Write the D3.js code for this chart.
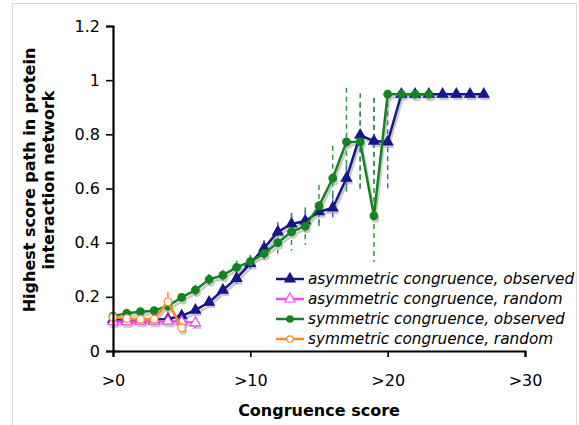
<!DOCTYPE html>
<html>
<head>
<meta charset="utf-8">
<script src="https://cdn.jsdelivr.net/npm/d3@7"></script>
<style>
  body { margin: 0; background: #fff; }
  text { font-family: "DejaVu Sans", Verdana, sans-serif; }
</style>
</head>
<body>
<div id="chart"></div>
<script>
// values
var xTicks = [0, 10, 20, 30];
var xTickLabels = [">0", ">10", ">20", ">30"];
var yTicks = [0, 0.2, 0.4, 0.6, 0.8, 1, 1.2];
var yTickLabels = ["0", "0.2", "0.4", "0.6", "0.8", "1", "1.2"];

// asymmetric congruence, observed (x = 0..27)
var asymObs = [0.117, 0.115, 0.115, 0.115, 0.118, 0.13, 0.151, 0.18, 0.225, 0.268, 0.323, 0.38, 0.44, 0.469,
               0.48, 0.514, 0.528, 0.638, 0.797, 0.775, 0.772, 0.948, 0.948, 0.948, 0.948, 0.948, 0.948, 0.948];
var asymObsErrUp = [0.01, 0.01, 0.01, 0.01, 0.01, 0.01, 0.01, 0.012, 0.015, 0.02, 0.02, 0.03, 0.035, 0.04,
                    0.04, 0.04, 0.05, 0.05, 0.12, 0.16, 0.18, 0, 0, 0, 0, 0, 0, 0];
var asymObsErrDown = [0.01, 0.01, 0.01, 0.01, 0.01, 0.01, 0.01, 0.012, 0.015, 0.02, 0.02, 0.03, 0.035, 0.04,
                      0.04, 0.04, 0.05, 0.05, 0.2, 0.16, 0.18, 0, 0, 0, 0, 0, 0, 0];

// asymmetric congruence, random (x = 0..6)
var asymRnd = [0.108, 0.108, 0.11, 0.11, 0.11, 0.108, 0.104];
var asymRndErr = [0.005, 0.005, 0.005, 0.005, 0.008, 0.01, 0.02];

// symmetric congruence, observed (x = 0..23)
var symObs = [0.129, 0.139, 0.145, 0.149, 0.166, 0.198, 0.225, 0.264, 0.28, 0.309, 0.33, 0.36, 0.4, 0.44,
              0.461, 0.536, 0.638, 0.772, 0.772, 0.499, 0.948, 0.948, 0.948, 0.948];
var symObsErrUp = [0.005, 0.005, 0.008, 0.01, 0.012, 0.015, 0.02, 0.02, 0.02, 0.025, 0.025, 0.03, 0.04, 0.07,
                   0.07, 0.077, 0.12, 0.2, 0.18, 0.435, 0, 0, 0, 0];
var symObsErrDown = [0.005, 0.005, 0.008, 0.01, 0.012, 0.015, 0.02, 0.02, 0.02, 0.025, 0.025, 0.03, 0.04, 0.07,
                     0.07, 0.077, 0.12, 0.2, 0.18, 0.17, 0, 0, 0, 0];

// symmetric congruence, random (x = 0..5)
var symRnd = [0.125, 0.12, 0.117, 0.117, 0.182, 0.086];
var symRndErr = [0.005, 0.005, 0.005, 0.005, 0.035, 0.01];

var legendLabels = ["asymmetric congruence, observed", "asymmetric congruence, random",
                    "symmetric congruence, observed", "symmetric congruence, random"];

var W = 579, H = 425;
var svg = d3.select("#chart").append("svg").attr("width", W).attr("height", H);

// light frame round the chart
svg.append("rect")
    .attr("x", 12.5).attr("y", 3.5).attr("width", 564).attr("height", 440)
    .attr("fill", "none").attr("stroke", "#d9d9d9");

var x = d3.scaleLinear().domain([0, 30]).range([113, 525]);
var y = d3.scaleLinear().domain([0, 1.2]).range([351, 26]);

function pts(vals, up, down) {
    return vals.map(function (v, i) {
        return {x: i, y: v, up: up[i], down: down ? down[i] : up[i]};
    });
}

var series = [
    {data: pts(asymObs, asymObsErrUp, asymObsErrDown), color: "#16168c", err: "#4a5fe0", marker: "tri", fill: "#16168c"},
    {data: pts(symObs, symObsErrUp, symObsErrDown), color: "#14841e", err: "#2f9a3a", marker: "circle", fill: "#14841e"},
    {data: pts(asymRnd, asymRndErr), color: "#f04cf0", err: "#f04cf0", marker: "tri", fill: "#fff"},
    {data: pts(symRnd, symRndErr), color: "#ff8a1e", err: "#ff8a1e", marker: "circle", fill: "#fff"}
];

var line = d3.line()
    .x(function (d) { return x(d.x); })
    .y(function (d) { return y(d.y); });

var tri = d3.symbol().type(d3.symbolTriangle).size(46);

// error bars first, behind the lines
series.forEach(function (s) {
    svg.append("g").selectAll("line")
        .data(s.data.filter(function (d) { return d.up > 0 || d.down > 0; }))
        .enter().append("line")
        .attr("x1", function (d) { return x(d.x); })
        .attr("x2", function (d) { return x(d.x); })
        .attr("y1", function (d) { return y(d.y + d.up); })
        .attr("y2", function (d) { return y(d.y - d.down); })
        .attr("stroke", s.err)
        .attr("stroke-width", 1.5)
        .attr("stroke-dasharray", "5,4");
});

// grey shadows
var shadow = svg.append("g").attr("transform", "translate(1.5,3)").attr("opacity", 0.45);
series.forEach(function (s) {
    shadow.append("path").datum(s.data).attr("d", line)
        .attr("fill", "none").attr("stroke", "#888").attr("stroke-width", 2.5);
    if (s.marker === "tri") {
        shadow.selectAll(null).data(s.data).enter().append("path")
            .attr("d", tri)
            .attr("transform", function (d) { return "translate(" + x(d.x) + "," + y(d.y) + ")"; })
            .attr("fill", "#888");
    } else {
        shadow.selectAll(null).data(s.data).enter().append("circle")
            .attr("cx", function (d) { return x(d.x); })
            .attr("cy", function (d) { return y(d.y); })
            .attr("r", 4).attr("fill", "#888");
    }
});

series.forEach(function (s) {
    svg.append("path").datum(s.data).attr("d", line)
        .attr("fill", "none").attr("stroke", s.color).attr("stroke-width", 2.5)
        .attr("stroke-linejoin", "round");
    if (s.marker === "tri") {
        svg.append("g").selectAll("path").data(s.data).enter().append("path")
            .attr("d", tri)
            .attr("transform", function (d) { return "translate(" + x(d.x) + "," + y(d.y) + ")"; })
            .attr("fill", s.fill).attr("stroke", s.color).attr("stroke-width", 1.2);
    } else {
        svg.append("g").selectAll("circle").data(s.data).enter().append("circle")
            .attr("cx", function (d) { return x(d.x); })
            .attr("cy", function (d) { return y(d.y); })
            .attr("r", 3.8)
            .attr("fill", s.fill).attr("stroke", s.color).attr("stroke-width", 1.2);
    }
});

// axes
var yAxis = svg.append("g")
    .attr("transform", "translate(113,0)")
    .call(d3.axisLeft(y).tickValues(yTicks).tickSizeOuter(0).tickSize(7).tickPadding(6)
        .tickFormat(function (d, i) { return yTickLabels[i]; }));
var xAxis = svg.append("g")
    .attr("transform", "translate(0,351)")
    .call(d3.axisBottom(x).tickValues(xTicks).tickSizeOuter(0).tickSize(6).tickPadding(18)
        .tickFormat(function (d, i) { return xTickLabels[i]; }));

[yAxis, xAxis].forEach(function (a) {
    a.select(".domain").attr("stroke", "#000").attr("stroke-width", 2.2);
    a.selectAll(".tick line").attr("stroke", "#000").attr("stroke-width", 1.6);
    a.selectAll(".tick text").attr("font-family", "DejaVu Sans").attr("font-size", 16).attr("fill", "#000");
});
// small tick stub above the x axis at 0
yAxis.selectAll(".tick").filter(function (d) { return d === 0; })
    .append("line").attr("x1", 0).attr("x2", 7).attr("stroke", "#000").attr("stroke-width", 1.6);

// axis titles
svg.append("text")
    .attr("x", 319).attr("y", 416)
    .attr("text-anchor", "middle")
    .attr("font-size", 16).attr("font-weight", "bold")
    .text("Congruence score");

var yTitle = svg.append("text")
    .attr("transform", "translate(35,180) rotate(-90)")
    .attr("text-anchor", "middle")
    .attr("font-size", 16).attr("font-weight", "bold");
yTitle.append("tspan").attr("x", 0).attr("y", 0).text("Highest score path in protein");
yTitle.append("tspan").attr("x", 0).attr("y", 19).text("interaction network");

// legend
var legend = svg.append("g").attr("transform", "translate(276,279)");
legendLabels.forEach(function (lab, i) {
    var s = series[[0, 2, 1, 3][i]];
    var row = legend.append("g").attr("transform", "translate(0," + (i * 20) + ")");
    row.append("line").attr("x1", 0).attr("x2", 28).attr("stroke", s.color).attr("stroke-width", 2.5);
    if (s.marker === "tri") {
        row.append("path").attr("d", tri).attr("transform", "translate(14,0)")
            .attr("fill", s.fill).attr("stroke", s.color).attr("stroke-width", 1.2);
    } else {
        row.append("circle").attr("cx", 14).attr("r", 3.2)
            .attr("fill", s.fill).attr("stroke", s.color).attr("stroke-width", 1.2);
    }
    row.append("text").attr("x", 32).attr("dy", "0.35em")
        .attr("font-size", 15.3).attr("font-style", "italic")
        .text(lab);
});
</script>
</body>
</html>
